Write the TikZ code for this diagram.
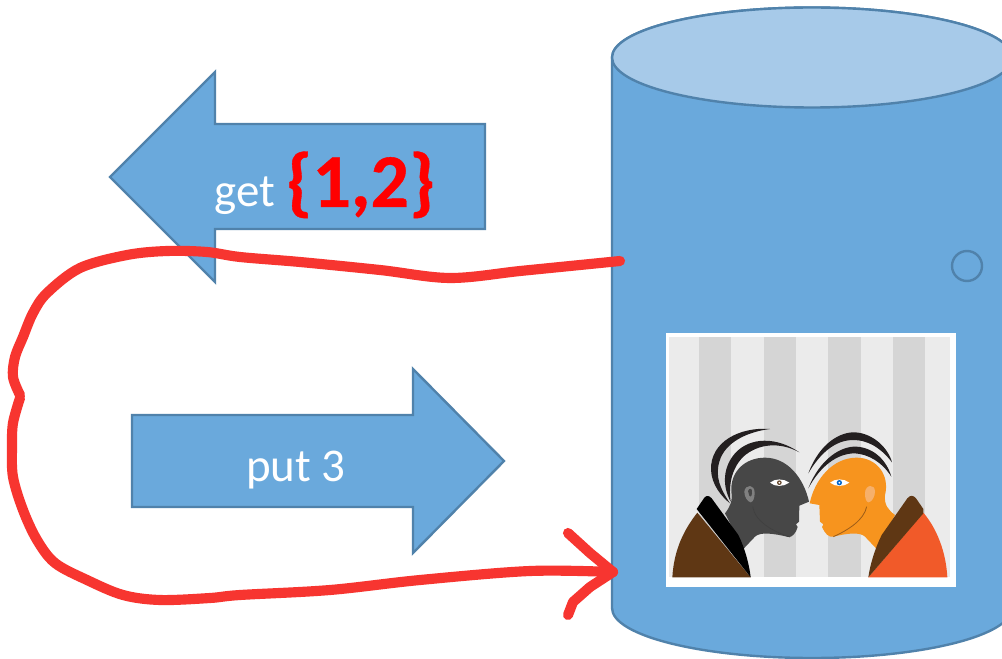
\documentclass[tikz,border=0pt]{standalone}
\usepackage{fontspec}
\setmainfont[BoldFeatures={FakeBold=0.5}]{Carlito}
\definecolor{bfill}{HTML}{6AA9DC}
\definecolor{btop}{HTML}{A7CAE9}
\definecolor{bline}{HTML}{5082AB}
\definecolor{redpen}{HTML}{F73530}
\definecolor{stripeA}{HTML}{EBEBEB}
\definecolor{stripeB}{HTML}{D5D5D5}
\definecolor{darkhead}{HTML}{474747}
\definecolor{orangehead}{HTML}{F7941E}
\definecolor{browncoat}{HTML}{5F3714}
\definecolor{redcoat}{HTML}{F15A29}
\definecolor{hairc}{HTML}{231F20}
\tikzset{
 shapeblue/.style={fill=bfill,draw=bline,line width=1.8pt,line join=miter},
 pen/.style={draw=redpen,line width=7.6pt,line cap=round,line join=round},
 lab/.style={inner sep=0pt,text=white,font=\fontsize{35.2}{40}\selectfont,anchor=base west}
}
\begin{document}
\begin{tikzpicture}[x=0.75pt,y=-0.75pt]
\useasboundingbox (0,0) rectangle (1002,659);
\clip (0,0) rectangle (1002,659);
\fill[white] (0,0) rectangle (1002,659);
% cylinder
\path[shapeblue] (612,57.5) -- (612,608) arc[start angle=180,end angle=0,x radius=200,y radius=50] -- (1012,57.5) arc[start angle=0,end angle=-180,x radius=200,y radius=50] -- cycle;
\path[shapeblue,fill=btop] (812,57.5) ellipse[x radius=200,y radius=50];
\draw[bline,line width=1.8pt] (967,266) circle[radius=15];
% arrows
\path[shapeblue] (110,177) -- (215,72) -- (215,124) -- (485,124) -- (485,229) -- (215,229) -- (215,282) -- cycle;
\path[shapeblue] (132,415) -- (413,415) -- (413,369) -- (504,461) -- (413,553) -- (413,507) -- (132,507) -- cycle;
\node[lab] (getlabel) at (214,207) {get};
\node[lab,text=red,font=\fontsize{57}{60}\selectfont\bfseries] (setlabel) at (286,207) {\{1,2\}};
\node[lab] (putlabel) at (246,481) {put 3};
% picture
\begin{scope}[shift={(660,325)},x=0.25pt,y=-0.25pt]
\fill[white] (18,24) rectangle (888,786);
\fill[stripeA] (28,35) rectangle (870,757);
\foreach \a in {117,311,505,699}{\fill[stripeB] (\a,35) rectangle +(97,722);}
% left person
\fill[darkhead] (250,672) -- (195,565) .. controls (210,545) and (218,530) .. (214,500)
 .. controls (210,440) and (255,398) .. (315,398) .. controls (380,398) and (430,455) .. (447,530)
 -- (418,542) -- (417,590) -- (408,598) -- (413,606) .. controls (408,625) and (395,638) .. (385,636)
 .. controls (340,625) and (300,620) .. (285,635) -- cycle;
\fill[browncoat] (37,757) .. controls (42,670) and (75,610) .. (112,563) -- (272,757) -- cycle;
\fill[black] (110,552) -- (133,518) .. controls (140,510) and (148,512) .. (155,520)
 -- (235,630) .. controls (255,670) and (268,720) .. (272,757) -- cycle;
\fill[hairc] (330,312) .. controls (240,305) and (150,350) .. (153,435) .. controls (155,480) and (185,515) .. (210,535)
 .. controls (180,490) and (165,455) .. (178,410) .. controls (195,350) and (265,320) .. (330,312) -- cycle;
\fill[hairc] (418,382) .. controls (350,335) and (270,335) .. (225,385) .. controls (190,425) and (185,480) .. (212,530)
 .. controls (205,480) and (215,430) .. (250,395) .. controls (295,355) and (360,350) .. (418,382) -- cycle;
\fill[white] (330,473) .. controls (345,460) and (370,460) .. (388,473) .. controls (370,486) and (345,486) .. (330,473) -- cycle;
\fill[browncoat!80!gray] (358,473) circle[radius=7];
\fill[white] (358,473) circle[radius=3];
\fill[gray] (253,500) .. controls (255,478) and (285,475) .. (284,505) .. controls (283,520) and (280,530) .. (272,532) .. controls (262,530) and (253,515) .. (253,500) -- cycle;
\fill[darkhead] (264,498) .. controls (268,488) and (278,488) .. (276,505) .. controls (275,515) and (270,518) .. (268,512) -- cycle;
\draw[black!75,line width=0.5pt] (278,545) .. controls (285,590) and (340,620) .. (390,636);
% right person
\fill[orangehead] (650,672) -- (705,570) .. controls (685,555) and (672,540) .. (675,510)
 .. controls (690,450) and (650,398) .. (590,398) .. controls (520,398) and (465,460) .. (449,535)
 -- (478,540) -- (480,590) -- (490,598) -- (486,606) .. controls (495,625) and (505,638) .. (520,635)
 .. controls (560,625) and (600,620) .. (615,635) -- cycle;
\fill[redcoat] (625,757) -- (790,563) .. controls (830,610) and (858,680) .. (862,757) -- cycle;
\fill[browncoat] (625,757) .. controls (630,720) and (645,670) .. (665,630) -- (742,520)
 .. controls (750,510) and (760,510) .. (768,520) -- (790,552) -- (790,565) -- cycle;
\fill[hairc] (445,445) .. controls (480,350) and (545,320) .. (585,322) .. controls (640,325) and (685,370) .. (696,412)
 .. controls (660,365) and (620,345) .. (580,345) .. controls (525,345) and (480,385) .. (445,445) -- cycle;
\fill[hairc] (445,490) .. controls (480,400) and (545,362) .. (590,365) .. controls (640,368) and (680,405) .. (694,455)
 .. controls (665,410) and (625,388) .. (585,385) .. controls (530,385) and (480,425) .. (445,490) -- cycle;
\fill[white] (510,473) .. controls (525,460) and (552,460) .. (568,473) .. controls (552,486) and (525,486) .. (510,473) -- cycle;
\fill[blue!50!cyan!80!black] (538,473) circle[radius=8];
\fill[white] (538,473) circle[radius=3];
\fill[orange!55!white!85!brown] (615,505) .. controls (615,478) and (645,475) .. (645,500) .. controls (645,515) and (635,532) .. (625,532) .. controls (618,530) and (615,520) .. (615,505) -- cycle;
\draw[browncoat!60!orangehead,line width=0.6pt] (620,545) .. controls (612,585) and (565,615) .. (520,635);
\end{scope}
% red pen
\draw[pen] plot[smooth,tension=0.55] coordinates {(620,261) (580,265) (520,271) (450,278) (380,270) (300,262) (240,257) (207,252) (167,251) (127,255) (80,268) (47,293) (33,313) (23,337) (15,357) (13,377) (20,395)};
\draw[pen] plot[smooth,tension=0.55] coordinates {(20,398) (13,423) (12,447) (13,477) (23,510) (37,540) (55,563) (87,580) (123,595) (160,600) (210,598) (240,595) (330,590) (420,580) (530,571) (613,572)};
\draw[pen] (568,533) -- (590,553) -- (613,572) -- (590,587) -- (573,602) -- (568,615);
\end{tikzpicture}
\end{document}
